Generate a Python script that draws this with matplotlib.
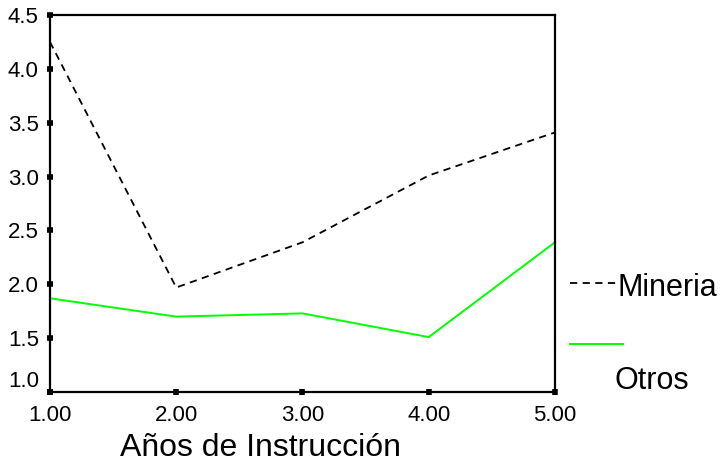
import numpy as np
import matplotlib.pyplot as plt
import matplotlib.transforms as mtrans
from matplotlib.lines import Line2D

plt.rcParams['font.family'] = ['Liberation Sans', 'DejaVu Sans']

anios   = [1.0, 2.0, 3.0, 4.0, 5.0]
mineria = [4.25, 1.97, 2.39, 3.01, 3.41]
otros   = [1.87, 1.70, 1.73, 1.51, 2.39]

xticks = [1.0, 2.0, 3.0, 4.0, 5.0]
yticks = [1.0, 1.5, 2.0, 2.5, 3.0, 3.5, 4.0, 4.5]

fig = plt.figure(figsize=(7.2, 4.63), dpi=100)
ax = fig.add_axes([0.0694, 0.1533, 0.7014, 0.8143])

ax.plot(anios, mineria, color='black', linewidth=1.3, dashes=(4, 3), clip_on=False)
ax.plot(anios, otros, color='#00ff00', linewidth=1.4, clip_on=False)

ax.set_xlim(1.0, 5.0)
ax.set_ylim(1.0, 4.5)
ax.set_xticks(xticks)
ax.set_xticklabels(['%.2f' % v for v in xticks])
ax.set_yticks(yticks)
ax.set_yticklabels(['%.1f' % v for v in yticks])
ax.tick_params(direction='inout', length=4, width=4, labelsize=16)
ax.tick_params(axis='x', pad=7)
ax.tick_params(axis='y', pad=6)

# bottom y label sits a bit higher, as in the original
lab0 = ax.get_yticklabels()[0]
lab0.set_transform(lab0.get_transform() + mtrans.ScaledTranslation(0, 0.13, fig.dpi_scale_trans))

for s in ax.spines.values():
    s.set_linewidth(1.6)

ax.set_xlabel('Años de Instrucción', fontsize=23)
ax.xaxis.set_label_coords(0.416, -0.108)

# legend drawn by hand (odd layout of the original)
fig.add_artist(Line2D([570/720, 617/720], [1-283/463, 1-283/463], color='black',
                      linewidth=1.3, dashes=(4, 3)))
fig.text(617/720, 1-288/463, 'Mineria', fontsize=22, va='center', ha='left')
fig.add_artist(Line2D([570/720, 623/720], [1-344/463, 1-344/463], color='#00ff00',
                      linewidth=1.4))
fig.text(614/720, 1-381/463, 'Otros', fontsize=22, va='center', ha='left')

fig.savefig('out.png', dpi=100)
